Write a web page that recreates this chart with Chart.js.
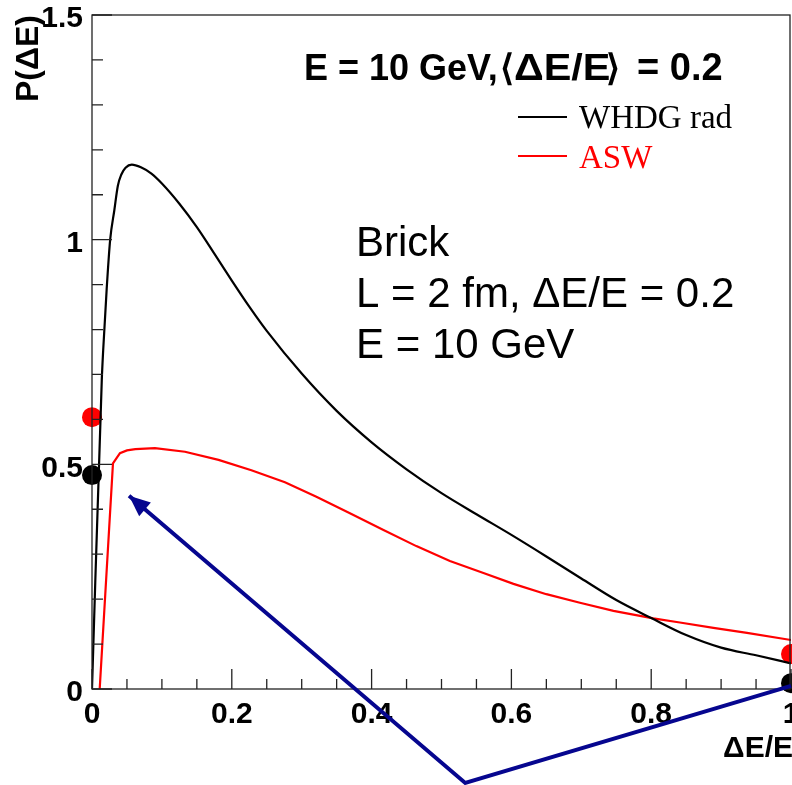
<!DOCTYPE html>
<html>
<head>
<meta charset="utf-8">
<script src="https://cdn.jsdelivr.net/npm/chart.js@4.4.1/dist/chart.umd.min.js"></script>
<style>
  html, body { margin: 0; padding: 0; background: #fff; }
  canvas { display: block; }
</style>
</head>
<body>
<canvas id="eloss" width="792" height="785"></canvas>
<script>
// WHDG radiative energy-loss distribution (smooth curve)
const whdgX = [0, 0.014, 0.016, 0.021, 0.026, 0.032, 0.037, 0.042, 0.048, 0.057, 0.07, 0.085, 0.1, 0.125, 0.15, 0.175, 0.2, 0.225, 0.25, 0.3, 0.35, 0.4, 0.45, 0.5, 0.55, 0.6, 0.65, 0.7, 0.75, 0.8, 0.85, 0.9, 0.95, 1.0];
const whdgY = [0, 0.688, 0.754, 0.89, 1.0, 1.066, 1.12, 1.145, 1.16, 1.167, 1.161, 1.147, 1.125, 1.08, 1.028, 0.969, 0.909, 0.851, 0.797, 0.702, 0.619, 0.549, 0.489, 0.436, 0.389, 0.343, 0.295, 0.246, 0.198, 0.158, 0.12, 0.092, 0.075, 0.057];

// ASW distribution (coarse binning, straight segments)
const aswX = [0.011, 0.030, 0.040, 0.050, 0.062, 0.09, 0.133, 0.181, 0.228, 0.276, 0.321, 0.369, 0.417, 0.464, 0.512, 0.56, 0.603, 0.65, 0.698, 0.746, 0.803, 0.841, 0.889, 0.937, 1.0];
const aswY = [0, 0.502, 0.525, 0.531, 0.534, 0.536, 0.528, 0.510, 0.487, 0.460, 0.428, 0.391, 0.354, 0.318, 0.285, 0.258, 0.234, 0.211, 0.192, 0.174, 0.157, 0.148, 0.136, 0.125, 0.109];

// discrete weights at no loss / full loss
const whdgDotX = [0, 1];
const whdgDotY = [0.476, 0.013];
const aswDotX = [0, 1];
const aswDotY = [0.605, 0.078];

// pointer lines (arrow tip first)
const arrowX = [0.053, 0.534, 1.0];
const arrowY = [0.43, -0.209, 0.007];

const xTicks = [0, 0.2, 0.4, 0.6, 0.8, 1];
const yTicks = [0, 0.5, 1, 1.5];

const pts = (xs, ys) => xs.map((x, i) => ({ x: x, y: ys[i] }));

const SANS = "'Liberation Sans', Arial, Helvetica, sans-serif";
const SERIF = "'Liberation Serif', 'Times New Roman', serif";

const frame = {
  id: "frame",
  afterDatasetsDraw(chart) {
    const { ctx, chartArea: a, scales: { x, y } } = chart;
    ctx.save();
    ctx.strokeStyle = "#222";
    ctx.lineWidth = 1.3;
    ctx.strokeRect(a.left, a.top, a.right - a.left - 1, a.bottom - a.top);

    // inward ticks, ROOT style
    ctx.beginPath();
    for (let i = 0; i <= 20; i++) {
      const px = x.getPixelForValue(i * 0.05);
      const len = i % 4 === 0 ? 20 : 10;
      ctx.moveTo(px, a.bottom);
      ctx.lineTo(px, a.bottom - len);
    }
    for (let i = 0; i <= 15; i++) {
      const py = y.getPixelForValue(i * 0.1);
      const len = i % 5 === 0 ? 20 : 11;
      ctx.moveTo(a.left, py);
      ctx.lineTo(a.left + len, py);
    }
    ctx.stroke();

    // pointer lines with arrow head
    const ax = arrowX.map(v => x.getPixelForValue(v));
    const ay = arrowY.map(v => y.getPixelForValue(v));
    ctx.strokeStyle = "#06068f";
    ctx.fillStyle = "#06068f";
    ctx.lineWidth = 4;
    ctx.beginPath();
    ctx.moveTo(ax[0], ay[0]);
    ctx.lineTo(ax[1], ay[1]);
    ctx.lineTo(ax[2], ay[2]);
    ctx.stroke();
    const ang = Math.atan2(ay[0] - ay[1], ax[0] - ax[1]);
    ctx.beginPath();
    ctx.moveTo(ax[0], ay[0]);
    ctx.lineTo(ax[0] - 21 * Math.cos(ang) + 9 * Math.sin(ang), ay[0] - 21 * Math.sin(ang) - 9 * Math.cos(ang));
    ctx.lineTo(ax[0] - 21 * Math.cos(ang) - 9 * Math.sin(ang), ay[0] - 21 * Math.sin(ang) + 9 * Math.cos(ang));
    ctx.closePath();
    ctx.fill();
    ctx.restore();
  },
  afterDraw(chart) {
    const { ctx } = chart;
    ctx.save();
    ctx.fillStyle = "#000";
    ctx.textBaseline = "alphabetic";

    // axis titles
    ctx.font = "bold 32px " + SANS;
    ctx.save();
    ctx.translate(38, 15);
    ctx.rotate(-Math.PI / 2);
    ctx.textAlign = "right";
    ctx.fillText("P(\u0394E)", 0, 0);
    ctx.restore();
    ctx.font = "bold 30px " + SANS;
    ctx.textAlign = "right";
    ctx.fillText("\u0394E/E", 793, 757);

    // header, set piecewise like TLatex
    ctx.textAlign = "left";
    ctx.font = "bold 36px " + SANS;
    ctx.fillText("E = 10 GeV,", 304, 80);
    ctx.fillText("\u27E8", 500, 80);
    ctx.save();
    ctx.translate(514, 80);
    ctx.scale(1.15, 1);
    ctx.fillText("\u0394E/E", 0, 0);
    ctx.restore();
    ctx.fillText("\u27E9", 606, 80);
    ctx.font = "bold 38px " + SANS;
    ctx.fillText("= 0.2", 637, 80);

    // legend
    ctx.lineWidth = 2;
    ctx.strokeStyle = "#000";
    ctx.beginPath(); ctx.moveTo(518, 117); ctx.lineTo(567, 117); ctx.stroke();
    ctx.strokeStyle = "#ff0000";
    ctx.beginPath(); ctx.moveTo(518, 156); ctx.lineTo(567, 156); ctx.stroke();
    ctx.font = "33px " + SERIF;
    ctx.fillText("WHDG rad", 579, 128);
    ctx.fillStyle = "#ff0000";
    ctx.fillText("ASW", 579, 168);

    // medium description
    ctx.fillStyle = "#000";
    ctx.font = "42px " + SANS;
    ctx.fillText("Brick", 356, 256);
    ctx.fillText("L = 2 fm, \u0394E/E = 0.2", 356, 307);
    ctx.fillText("E = 10 GeV", 356, 358);
    ctx.restore();
  }
};

new Chart(document.getElementById("eloss"), {
  type: "scatter",
  data: {
    datasets: [
      {
        label: "WHDG rad",
        data: pts(whdgX, whdgY),
        showLine: true,
        borderColor: "#000",
        borderWidth: 2.2,
        pointRadius: 0,
        cubicInterpolationMode: "monotone"
      },
      {
        label: "ASW",
        data: pts(aswX, aswY),
        showLine: true,
        borderColor: "#ff0000",
        borderWidth: 2.2,
        pointRadius: 0,
        tension: 0
      },
      {
        label: "WHDG P0",
        data: pts(whdgDotX, whdgDotY),
        pointRadius: 10,
        pointBackgroundColor: "#000",
        pointBorderWidth: 0,
        clip: false
      },
      {
        label: "ASW P0",
        data: pts(aswDotX, aswDotY),
        pointRadius: 10,
        pointBackgroundColor: "#ff0000",
        pointBorderWidth: 0,
        clip: false
      }
    ]
  },
  options: {
    responsive: false,
    animation: false,
    layout: { autoPadding: false, padding: { top: 15, right: 1, left: 0, bottom: 0 } },
    plugins: { legend: { display: false }, tooltip: { enabled: false } },
    scales: {
      x: {
        type: "linear",
        min: 0,
        max: 1,
        grid: { display: false, drawTicks: false },
        border: { display: false },
        afterBuildTicks: s => { s.ticks = xTicks.map(v => ({ value: v })); },
        ticks: {
          padding: 8,
          color: "#000",
          font: { family: SANS, size: 30, weight: "bold" },
          maxRotation: 0,
          autoSkip: false,
          callback: v => String(v)
        },
        afterFit: s => { s.height = 96; s.paddingLeft = 0; s.paddingRight = 0; }
      },
      y: {
        type: "linear",
        min: 0,
        max: 1.5,
        grid: { display: false, drawTicks: false },
        border: { display: false },
        afterBuildTicks: s => { s.ticks = yTicks.map(v => ({ value: v })); },
        ticks: {
          padding: 9,
          labelOffset: 4,
          color: "#000",
          font: { family: SANS, size: 30, weight: "bold" },
          autoSkip: false,
          callback: v => String(v)
        },
        afterFit: s => { s.width = 92; s.paddingTop = 0; s.paddingBottom = 0; }
      }
    }
  },
  plugins: [frame]
});
</script>
</body>
</html>
